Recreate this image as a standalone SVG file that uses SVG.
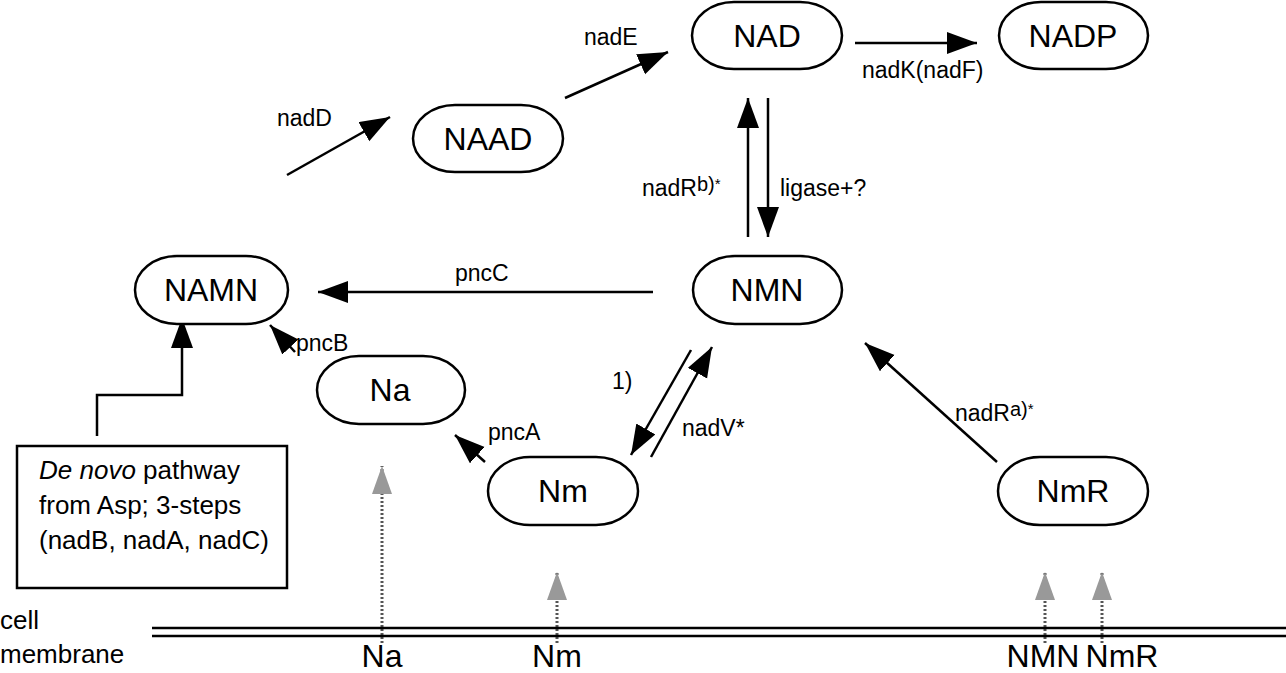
<svg xmlns="http://www.w3.org/2000/svg" width="1286" height="673" viewBox="0 0 1286 673">
<style>
.node{fill:#fff;stroke:#000;stroke-width:2.5}
.nt{font-family:"Liberation Sans",Arial,sans-serif;font-size:32px;text-anchor:middle;fill:#000}
.lbl{font-family:"Liberation Sans",Arial,sans-serif;font-size:23px;fill:#000}
.bx{font-family:"Liberation Sans",Arial,sans-serif;font-size:26px;fill:#000}
.edge{fill:none;stroke:#000;stroke-width:2.5}
.gedge{fill:none;stroke:#555;stroke-width:3;stroke-dasharray:2 2}
.mem{stroke:#000;stroke-width:2.5}
</style>
<defs>
<marker id="ah" markerUnits="userSpaceOnUse" markerWidth="32" markerHeight="24" refX="30" refY="11" orient="auto">
<path d="M0,0 L30,11 L0,22 z" fill="#000"/>
</marker>
<marker id="gah" markerUnits="userSpaceOnUse" markerWidth="30" markerHeight="24" refX="28" refY="10" orient="auto">
<path d="M0,0 L28,10 L0,20 z" fill="#999"/>
</marker>
</defs>

<g id="connectors">
<line class="edge" x1="855" y1="43" x2="977" y2="43" marker-end="url(#ah)"/>
<line class="edge" x1="565" y1="98" x2="668" y2="52" marker-end="url(#ah)"/>
<line class="edge" x1="287" y1="175" x2="390" y2="117" marker-end="url(#ah)"/>
<line class="edge" x1="653" y1="292" x2="318" y2="292" marker-end="url(#ah)"/>
<line class="edge" x1="748" y1="237" x2="748" y2="98" marker-end="url(#ah)"/>
<line class="edge" x1="768" y1="98" x2="768" y2="237" marker-end="url(#ah)"/>
<line class="edge" x1="295" y1="352" x2="270" y2="325" marker-end="url(#ah)"/>
<line class="edge" x1="485" y1="462" x2="455" y2="435" marker-end="url(#ah)"/>
<line class="edge" x1="691" y1="350" x2="631" y2="455" marker-end="url(#ah)"/>
<line class="edge" x1="651" y1="457" x2="712" y2="347" marker-end="url(#ah)"/>
<line class="edge" x1="997" y1="462" x2="865" y2="343" marker-end="url(#ah)"/>
<polyline class="edge" points="97,436 97,395 182,395 182,318" marker-end="url(#ah)"/>
<line class="gedge" x1="382" y1="643" x2="382" y2="466" marker-end="url(#gah)"/>
<line class="gedge" x1="557" y1="643" x2="557" y2="572" marker-end="url(#gah)"/>
<line class="gedge" x1="1045" y1="643" x2="1045" y2="572" marker-end="url(#gah)"/>
<line class="gedge" x1="1102" y1="643" x2="1102" y2="572" marker-end="url(#gah)"/>
<text class="lbl" x="584" y="45">nadE</text>
<text class="lbl" x="862" y="78">nadK(nadF)</text>
<text class="lbl" x="277" y="126">nadD</text>
<text class="lbl" x="455" y="281">pncC</text>
<text class="lbl" x="642" y="196">nadR<tspan font-size="20" dy="-5">b)</tspan><tspan font-size="15" dy="-2">*</tspan></text>
<text class="lbl" x="780" y="196">ligase+?</text>
<text class="lbl" x="296" y="351">pncB</text>
<text class="lbl" x="488" y="440">pncA</text>
<text class="lbl" x="612" y="389">1)</text>
<text class="lbl" x="682" y="436">nadV*</text>
<text class="lbl" x="955" y="421">nadR<tspan font-size="20" dy="-5">a)</tspan><tspan font-size="15" dy="-2">*</tspan></text>
</g>

<g id="NAD"><rect class="node" x="692" y="2" width="150" height="67" rx="42" ry="34"/><text class="nt" x="767" y="47">NAD</text></g>
<g id="NADP"><rect class="node" x="999" y="2" width="149" height="67" rx="42" ry="34"/><text class="nt" x="1073" y="47">NADP</text></g>
<g id="NAAD"><rect class="node" x="413" y="105" width="150" height="67" rx="42" ry="34"/><text class="nt" x="488" y="150">NAAD</text></g>
<g id="NAMN"><rect class="node" x="135" y="256" width="153" height="68" rx="42" ry="34"/><text class="nt" x="211" y="301">NAMN</text></g>
<g id="NMN"><rect class="node" x="693" y="256" width="149" height="68" rx="42" ry="34"/><text class="nt" x="767" y="301">NMN</text></g>
<g id="Na"><rect class="node" x="317" y="356" width="148" height="68" rx="42" ry="34"/><text class="nt" x="390" y="401">Na</text></g>
<g id="Nm"><rect class="node" x="488" y="457" width="150" height="68" rx="42" ry="34"/><text class="nt" x="563" y="502">Nm</text></g>
<g id="NmR"><rect class="node" x="998" y="457" width="150" height="68" rx="42" ry="34"/><text class="nt" x="1073" y="502">NmR</text></g>
<g id="denovo"><rect x="17" y="446" width="270" height="142" fill="#fff" stroke="#000" stroke-width="2.5"/>
<text class="bx" x="39" y="479"><tspan font-style="italic">De novo</tspan> pathway</text>
<text class="bx" x="39" y="514">from Asp; 3-steps</text>
<text class="bx" x="39" y="549">(nadB, nadA, nadC)</text></g>

<g id="membrane">
<line class="mem" x1="152" y1="628" x2="1286" y2="628"/>
<line class="mem" x1="152" y1="636" x2="1286" y2="636"/>
<text class="bx" x="0" y="629" font-size="24">cell</text>
<text class="bx" x="0" y="663" font-size="24">membrane</text>
<text class="nt" x="382" y="667">Na</text>
<text class="nt" x="557" y="667">Nm</text>
<text class="nt" x="1043" y="667">NMN</text>
<text class="nt" x="1122" y="667">NmR</text>
</g>
</svg>
